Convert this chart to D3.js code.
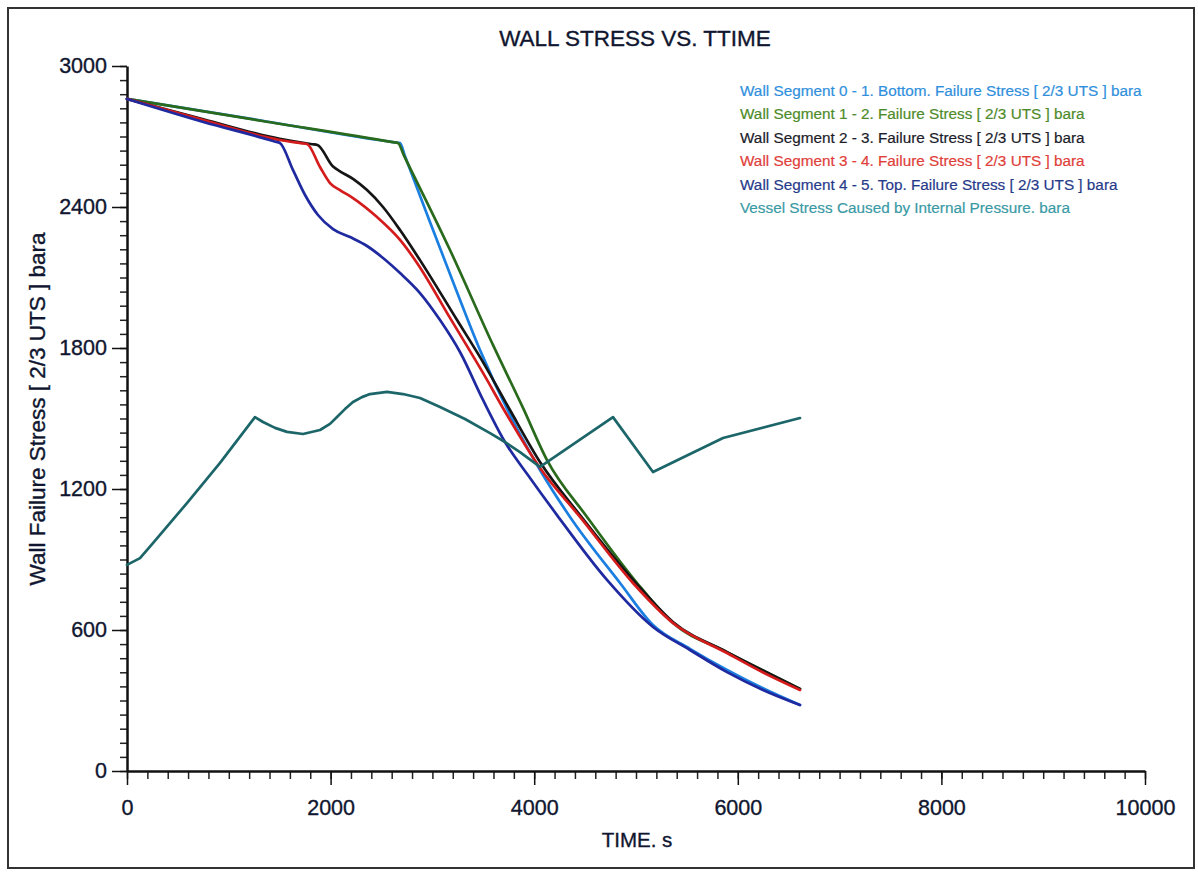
<!DOCTYPE html>
<html>
<head>
<meta charset="utf-8">
<script src="https://cdn.jsdelivr.net/npm/d3@7"></script>
<style>
  html, body { margin: 0; padding: 0; background: #ffffff; }
  svg { display: block; font-family: "Liberation Sans", Arial, sans-serif; }
</style>
</head>
<body>
<svg id="chart" width="1198" height="872"></svg>
<script>
// ---- Data (time in s, stress in bara) ----
const chartTitle = "WALL STRESS VS. TTIME";
const xLabel = "TIME. s";
const yLabel = "Wall Failure Stress [ 2/3 UTS ] bara";

const xTicks = [0, 2000, 4000, 6000, 8000, 10000];
const yTicks = [0, 600, 1200, 1800, 2400, 3000];

const seriesNames = [
  "Wall Segment 0 - 1. Bottom. Failure Stress [ 2/3 UTS ] bara",
  "Wall Segment 1 - 2. Failure Stress [ 2/3 UTS ] bara",
  "Wall Segment 2 - 3. Failure Stress [ 2/3 UTS ] bara",
  "Wall Segment 3 - 4. Failure Stress [ 2/3 UTS ] bara",
  "Wall Segment 4 - 5. Top. Failure Stress [ 2/3 UTS ] bara",
  "Vessel Stress Caused by Internal Pressure. bara"
];

const seg01Time = [0, 1330, 2630, 2682, 2730, 2976, 3222, 3468, 3762, 4057, 4352, 4843, 5167, 5530, 5894, 6247, 6611];
const seg01Val  = [2860, 2767, 2675, 2672, 2617, 2336, 2060, 1791, 1515, 1281, 1081, 800, 621, 520, 430, 352, 281];

const seg12Time = [0, 1330, 2610, 2662, 2720, 3173, 3595, 3890, 4126, 4519, 5010, 5363, 5894, 6247, 6611];
const seg12Val  = [2860, 2766, 2676, 2672, 2620, 2217, 1813, 1545, 1323, 1081, 800, 630, 506, 428, 349];

const seg23Time = [0, 750, 1500, 1820, 1870, 2024, 2092, 2220, 2358, 2515, 2682, 2878, 3242, 3497, 3762, 4057, 4450, 4990, 5363, 5894, 6247, 6611];
const seg23Val  = [2860, 2773, 2690, 2667, 2664, 2572, 2552, 2520, 2472, 2400, 2302, 2174, 1919, 1740, 1536, 1315, 1089, 804, 634, 506, 428, 349];

const seg34Time = [0, 750, 1500, 1720, 1768, 1896, 1994, 2092, 2220, 2456, 2682, 2849, 3173, 3497, 3733, 4057, 4450, 4970, 5363, 5894, 6218, 6611];
const seg34Val  = [2860, 2770, 2685, 2671, 2668, 2570, 2502, 2472, 2438, 2357, 2260, 2162, 1928, 1694, 1515, 1289, 1081, 800, 630, 502, 426, 345];

const seg45Time = [0, 750, 1450, 1503, 1631, 1749, 1876, 2024, 2191, 2358, 2515, 2682, 2878, 3075, 3271, 3497, 3713, 3959, 4224, 4715, 5167, 5530, 5894, 6247, 6611];
const seg45Val  = [2860, 2762, 2679, 2672, 2557, 2451, 2366, 2306, 2272, 2234, 2183, 2119, 2034, 1919, 1783, 1579, 1400, 1247, 1089, 813, 613, 515, 421, 345, 281];

const vesselTime = [0, 128, 255, 589, 914, 1257, 1336, 1454, 1572, 1729, 1896, 1994, 2063, 2141, 2220, 2308, 2387, 2554, 2711, 2878, 3075, 3320, 3566, 3713, 3860, 4057, 4774, 5167, 5855, 6611];
const vesselVal  = [877, 906, 970, 1140, 1311, 1506, 1485, 1460, 1443, 1434, 1451, 1477, 1506, 1540, 1570, 1591, 1604, 1613, 1604, 1587, 1549, 1498, 1438, 1400, 1357, 1294, 1506, 1272, 1417, 1502];

const lineColors   = ["#1a7fe0", "#2a6a1c", "#151515", "#d41c1c", "#1f2aa0", "#1c6669"];
const legendColors = ["#2f8fdc", "#4e8b2a", "#1c1c2a", "#e0403a", "#263a8a", "#3a9aa5"];

// ---- Build ----
const seriesData = [
  [seg01Time, seg01Val], [seg12Time, seg12Val], [seg23Time, seg23Val],
  [seg34Time, seg34Val], [seg45Time, seg45Val], [vesselTime, vesselVal]
].map(([t, v]) => t.map((d, i) => ({ t: d, v: v[i] })));

const svg = d3.select("#chart");
const x = d3.scaleLinear().domain([0, 10000]).range([127, 1145]);
const y = d3.scaleLinear().domain([0, 3000]).range([771, 66]);
const textInk = "#10162f";

// outer frame
svg.append("rect").attr("x", 8).attr("y", 8).attr("width", 1186).attr("height", 860)
  .attr("fill", "none").attr("stroke", "#333").attr("stroke-width", 2);

// title
svg.append("text").attr("x", 635).attr("y", 46).attr("text-anchor", "middle")
  .attr("font-size", 22.5).attr("fill", textInk).attr("stroke", textInk).attr("stroke-width", 0.35)
  .text(chartTitle);

// minor ticks
svg.append("g").attr("transform", `translate(0,${y(0)})`)
  .call(d3.axisBottom(x).tickValues(d3.range(0, 10001, 200)).tickSize(8).tickSizeOuter(0).tickFormat(""))
  .call(g => g.select(".domain").remove())
  .call(g => g.selectAll("line").attr("stroke", "#222").attr("stroke-width", 1.5));
svg.append("g").attr("transform", `translate(${x(0)},0)`)
  .call(d3.axisLeft(y).tickValues(d3.range(0, 3001, 60)).tickSize(7).tickSizeOuter(0).tickFormat(""))
  .call(g => g.select(".domain").remove())
  .call(g => g.selectAll("line").attr("stroke", "#222").attr("stroke-width", 1.5));

// major axes
const xAxis = svg.append("g").attr("transform", `translate(0,${y(0)})`)
  .call(d3.axisBottom(x).tickValues(xTicks).tickSize(14).tickSizeOuter(0).tickPadding(15).tickFormat(d3.format("d")));
const yAxis = svg.append("g").attr("transform", `translate(${x(0)},0)`)
  .call(d3.axisLeft(y).tickValues(yTicks).tickSize(15).tickSizeOuter(0).tickPadding(5).tickFormat(d3.format("d")));
[xAxis, yAxis].forEach(g => {
  g.select(".domain").attr("stroke", "#111").attr("stroke-width", 2.5);
  g.selectAll(".tick line").attr("stroke", "#111").attr("stroke-width", 1.5);
  g.selectAll(".tick text").attr("font-size", 21.5).attr("fill", textInk)
    .attr("stroke", textInk).attr("stroke-width", 0.35)
    .attr("font-family", "'Liberation Sans', Arial, sans-serif");
});

// axis labels
svg.append("text").attr("x", 637).attr("y", 847).attr("text-anchor", "middle")
  .attr("font-size", 20.5).attr("fill", textInk).attr("stroke", textInk).attr("stroke-width", 0.35)
  .text(xLabel);
svg.append("text").attr("transform", "translate(45,409) rotate(-90)").attr("text-anchor", "middle")
  .attr("font-size", 22.5).attr("fill", textInk).attr("stroke", textInk).attr("stroke-width", 0.35)
  .text(yLabel);

// lines: wall stresses smooth, vessel stress piecewise
const smoothLine = d3.line().x(d => x(d.t)).y(d => y(d.v)).curve(d3.curveMonotoneX);
const straightLine = d3.line().x(d => x(d.t)).y(d => y(d.v)).curve(d3.curveLinear);
svg.append("g").selectAll("path").data(seriesData).join("path")
  .attr("d", (d, i) => i === 5 ? straightLine(d) : smoothLine(d)).attr("fill", "none")
  .attr("stroke", (d, i) => lineColors[i]).attr("stroke-width", 2.7)
  .attr("stroke-linejoin", "round").attr("stroke-linecap", "round");

// legend
svg.append("g").selectAll("text").data(seriesNames).join("text")
  .attr("x", 740).attr("y", (d, i) => 96 + i * 23.4)
  .attr("font-size", 15.3).attr("fill", (d, i) => legendColors[i])
  .attr("stroke", (d, i) => legendColors[i]).attr("stroke-width", 0.2)
  .text(d => d);
</script>
</body>
</html>
